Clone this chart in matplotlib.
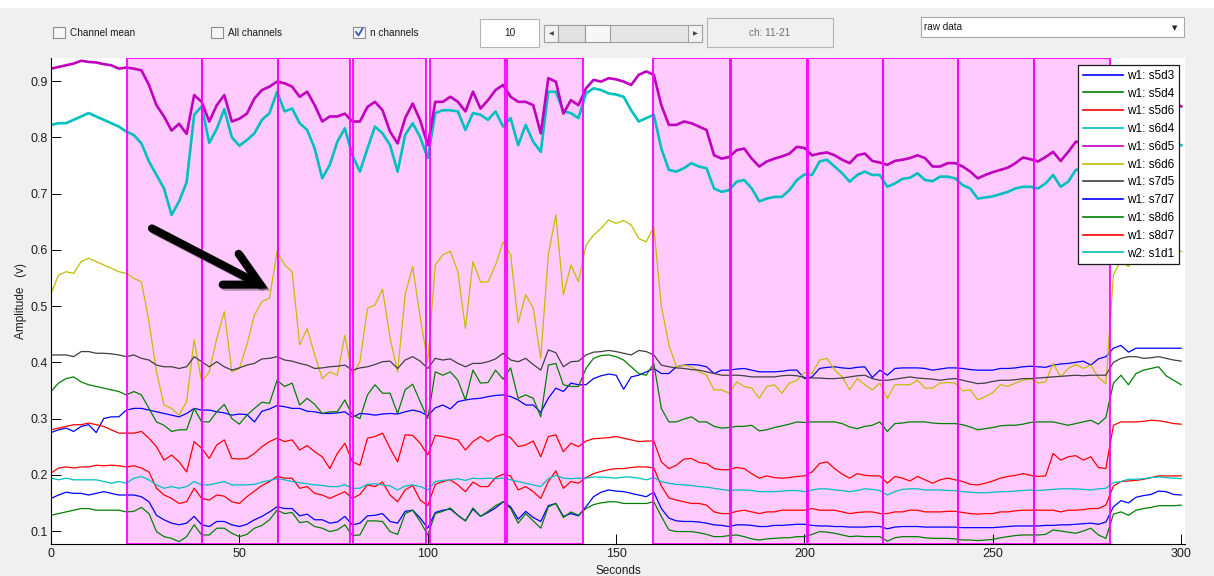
import numpy as np
import matplotlib
matplotlib.use("Agg")
import matplotlib.pyplot as plt
from matplotlib.patches import Rectangle
from matplotlib.lines import Line2D
import matplotlib.patheffects as pe

plt.rcParams['font.family'] = ['Liberation Sans', 'DejaVu Sans']

# ---------------------------------------------------------------- data
# samples every 2 s
seconds = np.arange(0, 302, 2)

channel_names = ['w1: s5d3', 'w1: s5d4', 'w1: s5d6', 'w1: s6d4', 'w1: s6d5',
                 'w1: s6d6', 'w1: s7d5', 'w1: s7d7', 'w1: s8d6', 'w1: s8d7',
                 'w2: s1d1']

s5d3 = [.275, .280, .283, .277, .286, .289, .275, .300, .303, .303,
        .315, .318, .318, .315, .312, .309, .306, .303, .309, .318,
        .315, .315, .312, .310, .306, .308, .307, .294, .313, .317,
        .323, .321, .318, .318, .313, .312, .309, .309, .310, .312,
        .302, .309, .308, .306, .308, .309, .308, .312, .315, .312,
        .305, .319, .324, .317, .330, .333, .335, .336, .339, .341,
        .342, .339, .333, .324, .324, .311, .336, .354, .348, .363,
        .360, .360, .371, .376, .379, .377, .352, .374, .377, .383,
        .389, .380, .380, .392, .395, .396, .395, .392, .380, .386,
        .386, .388, .389, .386, .383, .383, .383, .384, .386, .386,
        .371, .374, .389, .391, .392, .390, .389, .391, .392, .373,
        .386, .377, .389, .390, .390, .390, .389, .386, .388, .390,
        .390, .389, .387, .386, .386, .386, .389, .389, .390, .392,
        .393, .392, .391, .395, .397, .398, .400, .402, .395, .406,
        .410, .425, .430, .418, .425, .425, .425, .425, .425, .425,
        .425]

s5d4 = [.348, .363, .371, .374, .365, .360, .357, .354, .351, .348,
        .342, .348, .342, .318, .294, .288, .277, .280, .280, .318,
        .294, .294, .312, .325, .300, .290, .306, .318, .329, .327,
        .368, .357, .363, .324, .336, .325, .309, .312, .312, .333,
        .306, .300, .342, .360, .345, .345, .309, .351, .361, .330,
        .300, .383, .377, .383, .368, .333, .386, .363, .364, .386,
        .370, .390, .336, .342, .336, .303, .395, .398, .360, .357,
        .357, .389, .407, .412, .413, .410, .404, .392, .380, .377,
        .398, .318, .294, .294, .299, .303, .294, .294, .286, .283,
        .284, .286, .286, .288, .278, .280, .284, .287, .290, .294,
        .293, .294, .294, .294, .294, .291, .285, .282, .286, .288,
        .294, .277, .291, .292, .294, .294, .294, .292, .291, .291,
        .291, .289, .285, .280, .282, .284, .287, .288, .288, .290,
        .293, .294, .294, .294, .291, .288, .291, .294, .297, .290,
        .302, .363, .377, .360, .380, .386, .389, .392, .376, .368,
        .360]

s5d6 = [.280, .283, .286, .289, .289, .292, .289, .286, .280, .274,
        .274, .274, .277, .265, .250, .226, .235, .223, .205, .259,
        .247, .229, .253, .262, .229, .228, .229, .238, .250, .259,
        .265, .259, .262, .244, .252, .241, .232, .211, .238, .256,
        .223, .217, .265, .268, .274, .247, .223, .271, .270, .256,
        .235, .270, .268, .265, .262, .244, .259, .268, .259, .268,
        .272, .266, .250, .253, .260, .232, .268, .271, .241, .256,
        .250, .260, .264, .265, .266, .268, .265, .262, .259, .260,
        .260, .223, .211, .217, .228, .229, .222, .220, .211, .209,
        .209, .213, .211, .202, .194, .198, .195, .194, .195, .197,
        .198, .205, .220, .223, .211, .201, .194, .202, .199, .198,
        .198, .185, .197, .194, .189, .197, .191, .185, .191, .194,
        .191, .188, .183, .182, .185, .189, .194, .197, .199, .202,
        .199, .197, .198, .238, .226, .232, .234, .226, .232, .213,
        .211, .288, .294, .294, .294, .295, .297, .296, .294, .291,
        .290]

s6d4 = [.822, .825, .825, .831, .837, .843, .837, .831, .825, .819,
        .810, .804, .789, .757, .733, .709, .662, .686, .720, .840,
        .855, .790, .815, .850, .800, .785, .795, .807, .831, .843,
        .881, .846, .851, .825, .813, .780, .727, .751, .792, .816,
        .768, .739, .780, .819, .807, .786, .739, .804, .825, .800,
        .763, .843, .848, .848, .846, .813, .843, .840, .831, .846,
        .819, .834, .786, .822, .792, .774, .881, .881, .846, .843,
        .834, .878, .887, .884, .878, .876, .872, .848, .828, .834,
        .840, .780, .742, .739, .745, .754, .748, .745, .709, .703,
        .706, .721, .724, .709, .686, .691, .694, .694, .706, .724,
        .734, .733, .757, .760, .748, .736, .721, .733, .739, .733,
        .733, .712, .718, .726, .728, .736, .724, .722, .730, .730,
        .727, .715, .709, .691, .693, .695, .699, .703, .709, .712,
        .712, .709, .718, .733, .712, .721, .742, .745, .745, .745,
        .750, .770, .780, .785, .785, .790, .785, .790, .790, .788,
        .786]

s6d5 = [.922, .925, .928, .931, .936, .934, .933, .930, .928, .922,
        .924, .922, .919, .893, .857, .837, .812, .824, .806, .875,
        .863, .828, .857, .875, .828, .833, .842, .869, .884, .890,
        .899, .896, .890, .872, .881, .857, .828, .837, .837, .842,
        .828, .828, .854, .863, .848, .810, .789, .834, .860, .830,
        .786, .863, .863, .872, .863, .846, .881, .851, .866, .884,
        .893, .872, .863, .863, .857, .807, .905, .899, .842, .866,
        .857, .887, .902, .899, .905, .903, .899, .893, .911, .917,
        .911, .857, .822, .822, .828, .825, .819, .813, .768, .762,
        .765, .777, .780, .762, .748, .757, .762, .766, .771, .783,
        .781, .768, .771, .773, .768, .760, .754, .768, .771, .758,
        .755, .751, .758, .760, .763, .768, .763, .748, .748, .754,
        .754, .748, .739, .727, .733, .738, .742, .746, .754, .764,
        .761, .757, .765, .774, .758, .774, .792, .790, .795, .790,
        .800, .830, .850, .860, .860, .865, .860, .865, .860, .860,
        .855]

s6d6 = [.522, .555, .561, .558, .579, .585, .579, .573, .567, .561,
        .558, .549, .543, .472, .383, .324, .318, .306, .330, .440,
        .365, .383, .442, .490, .383, .389, .431, .484, .508, .514,
        .597, .573, .561, .431, .460, .413, .371, .383, .377, .448,
        .377, .401, .496, .502, .530, .443, .383, .520, .570, .480,
        .400, .573, .591, .597, .561, .460, .579, .543, .543, .573,
        .614, .591, .470, .520, .496, .407, .591, .662, .520, .573,
        .543, .608, .626, .638, .653, .647, .652, .644, .620, .614,
        .641, .500, .431, .392, .395, .392, .383, .377, .351, .351,
        .345, .365, .357, .354, .336, .357, .360, .345, .363, .368,
        .382, .380, .404, .407, .386, .374, .351, .371, .360, .351,
        .363, .336, .360, .360, .360, .368, .354, .354, .363, .364,
        .363, .349, .351, .333, .339, .346, .360, .357, .363, .368,
        .371, .363, .365, .398, .374, .389, .396, .389, .395, .373,
        .362, .555, .582, .570, .591, .590, .595, .600, .600, .598,
        .597]

s7d5 = [.413, .413, .413, .410, .419, .419, .416, .416, .415, .413,
        .410, .413, .407, .404, .395, .392, .392, .389, .392, .410,
        .401, .392, .401, .392, .386, .390, .395, .398, .406, .407,
        .410, .404, .402, .398, .395, .389, .390, .392, .393, .395,
        .386, .390, .392, .396, .401, .402, .389, .404, .410, .402,
        .389, .407, .404, .406, .398, .392, .398, .398, .401, .406,
        .416, .404, .401, .407, .396, .386, .422, .417, .392, .401,
        .402, .413, .418, .419, .421, .419, .416, .413, .421, .419,
        .413, .395, .392, .390, .389, .387, .386, .383, .380, .377,
        .377, .377, .376, .374, .374, .374, .374, .376, .377, .376,
        .373, .372, .372, .371, .371, .372, .374, .376, .377, .371,
        .368, .368, .370, .372, .374, .372, .371, .370, .368, .370,
        .371, .368, .365, .362, .363, .366, .368, .368, .369, .371,
        .371, .372, .373, .374, .375, .376, .377, .376, .377, .377,
        .377, .400, .407, .410, .410, .407, .408, .410, .407, .404,
        .402]

s7d7 = [.158, .164, .169, .167, .167, .164, .167, .170, .167, .164,
        .164, .164, .161, .152, .128, .120, .114, .111, .114, .126,
        .111, .108, .117, .117, .111, .108, .112, .120, .126, .134,
        .143, .140, .140, .127, .130, .120, .120, .114, .116, .126,
        .111, .114, .127, .128, .131, .117, .114, .135, .137, .123,
        .105, .133, .137, .139, .128, .118, .139, .126, .133, .141,
        .152, .143, .121, .135, .124, .117, .145, .149, .126, .131,
        .127, .143, .161, .169, .173, .171, .170, .167, .164, .161,
        .169, .140, .123, .118, .117, .117, .116, .114, .111, .110,
        .108, .111, .111, .110, .108, .108, .110, .110, .111, .112,
        .112, .110, .109, .109, .108, .108, .107, .107, .107, .108,
        .108, .104, .107, .108, .108, .108, .107, .107, .107, .107,
        .107, .106, .106, .106, .106, .106, .107, .108, .109, .109,
        .109, .109, .110, .110, .111, .111, .112, .113, .114, .112,
        .116, .143, .154, .150, .160, .163, .165, .171, .170, .165,
        .164]

s8d6 = [.128, .131, .134, .137, .140, .140, .137, .137, .137, .137,
        .134, .135, .142, .131, .099, .090, .087, .081, .090, .111,
        .093, .093, .105, .105, .096, .090, .094, .105, .110, .120,
        .137, .131, .133, .115, .117, .108, .105, .099, .102, .111,
        .092, .093, .118, .118, .117, .099, .094, .131, .137, .117,
        .093, .131, .135, .141, .128, .118, .141, .126, .135, .145,
        .152, .140, .114, .131, .118, .105, .143, .149, .124, .134,
        .128, .140, .147, .150, .152, .152, .149, .149, .149, .149,
        .152, .126, .102, .099, .099, .099, .097, .094, .090, .090,
        .092, .093, .090, .086, .084, .086, .087, .088, .088, .090,
        .090, .094, .099, .098, .096, .093, .090, .091, .090, .090,
        .090, .082, .088, .090, .090, .090, .088, .087, .087, .087,
        .086, .084, .084, .083, .084, .085, .088, .090, .092, .093,
        .093, .093, .094, .102, .100, .098, .096, .100, .105, .093,
        .087, .130, .134, .128, .137, .140, .142, .145, .145, .145,
        .146]

s8d7 = [.203, .212, .214, .212, .214, .214, .217, .216, .217, .216,
        .214, .216, .212, .205, .176, .164, .158, .149, .152, .176,
        .158, .155, .164, .162, .152, .149, .161, .171, .181, .188,
        .197, .194, .194, .176, .179, .167, .164, .158, .164, .170,
        .158, .165, .182, .179, .187, .164, .152, .173, .181, .155,
        .145, .183, .188, .191, .182, .170, .187, .179, .179, .195,
        .201, .198, .173, .179, .170, .158, .188, .207, .176, .188,
        .185, .195, .202, .206, .209, .211, .211, .213, .214, .214,
        .212, .180, .159, .155, .152, .149, .149, .146, .134, .131,
        .131, .135, .137, .134, .131, .134, .134, .137, .137, .137,
        .137, .140, .137, .137, .137, .134, .131, .133, .134, .134,
        .131, .131, .134, .134, .137, .137, .134, .134, .134, .135,
        .135, .133, .131, .130, .131, .131, .134, .134, .136, .137,
        .137, .137, .137, .137, .134, .137, .137, .138, .140, .140,
        .146, .180, .188, .189, .190, .192, .195, .198, .198, .198,
        .198]

s1d1 = [.194, .191, .194, .191, .191, .191, .191, .188, .185, .188,
        .185, .194, .197, .191, .182, .176, .179, .176, .179, .188,
        .182, .182, .185, .188, .182, .182, .182, .183, .187, .190,
        .193, .191, .188, .186, .184, .182, .181, .179, .179, .182,
        .176, .176, .183, .184, .182, .180, .173, .180, .182, .179,
        .173, .188, .190, .191, .193, .190, .194, .193, .194, .193,
        .194, .191, .188, .185, .182, .179, .193, .199, .194, .193,
        .194, .194, .196, .196, .195, .194, .196, .196, .194, .191,
        .195, .188, .185, .183, .182, .181, .179, .178, .176, .174,
        .172, .173, .173, .172, .170, .170, .170, .171, .172, .172,
        .170, .173, .175, .175, .173, .172, .170, .172, .175, .174,
        .172, .164, .170, .174, .175, .175, .173, .173, .173, .172,
        .172, .170, .169, .168, .168, .169, .170, .170, .171, .172,
        .173, .172, .173, .174, .175, .175, .175, .174, .173, .175,
        .176, .186, .188, .192, .192, .193, .195, .196, .195, .194,
        .193]

# task blocks (s)
block_onsets = [20.1, 40.1, 60.3, 80.1, 100.6, 121.1,
                159.9, 180.6, 200.8, 220.8, 240.8, 261.0]
block_offsets = [40.1, 60.3, 79.4, 99.5, 120.6, 141.3,
                 180.1, 200.7, 220.8, 240.8, 261.0, 281.1]

x_ticks = [0, 50, 100, 150, 200, 250, 300]
y_ticks = [0.1, 0.2, 0.3, 0.4, 0.5, 0.6, 0.7, 0.8, 0.9]
y_tick_labels = ['0.1', '0.2', '0.3', '0.4', '0.5', '0.6', '0.7', '0.8', '0.9']

# ---------------------------------------------------------------- styles
series = [s5d3, s5d4, s5d6, s6d4, s6d5, s6d6, s7d5, s7d7, s8d6, s8d7, s1d1]
colors = ['#0000ff', '#008000', '#ff0000', '#00bfbf', '#bf00bf', '#bfbf00',
          '#404040', '#0000ff', '#008000', '#ff0000', '#00bfbf']
widths = [0.9, 0.9, 0.9, 1.9, 1.9, 0.9, 0.9, 0.9, 0.9, 0.9, 0.9]

W, H = 1214, 576
fig = plt.figure(figsize=(W / 100, H / 100), dpi=100, facecolor='#f0f0f0')


def fx(px):
    return px / W


def fy(py):
    return 1 - py / H


def box(x0, y0, x1, y1, fc, ec, lw=0.8):
    fig.add_artist(Rectangle((fx(x0), fy(y1)), (x1 - x0) / W, (y1 - y0) / H,
                             transform=fig.transFigure, facecolor=fc,
                             edgecolor=ec, lw=lw))


def label(px, py, s, size=7.2, color='#1a1a1a', ha='left', **kw):
    fig.text(fx(px), fy(py), s, fontsize=size, color=color, ha=ha,
             va='center', **kw)


# ---------------------------------------------------------------- control bar
box(0, -2, W, 8, 'white', 'none')

for x0, txt, checked in [(53, 'Channel mean', False),
                         (211, 'All channels', False),
                         (353, 'n channels', True)]:
    box(x0, 27, x0 + 12, 38, '#f6f6f6', '#8e8e8e')
    label(x0 + 17, 32.5, txt)
    if checked:
        fig.add_artist(Line2D([fx(x0 + 3), fx(x0 + 5.5), fx(x0 + 9.5)],
                              [fy(32), fy(35.5), fy(28.5)],
                              transform=fig.transFigure, color='#3a5db0',
                              lw=1.3))

box(480, 19, 539, 47, 'white', '#b4b4b4')
label(509.5, 33.5, '10', ha='center')

box(544, 25, 702, 42, '#e6e6e6', '#a2a2a2')
box(544, 25, 558, 42, '#f2f2f2', '#a2a2a2')
box(688, 25, 702, 42, '#f2f2f2', '#a2a2a2')
box(558, 25, 585, 42, '#e2e2e2', '#9a9a9a')
box(585, 25, 610, 42, '#f7f7f7', '#9a9a9a')
label(551, 33.5, '\u25c0', size=4.5, color='#444444', ha='center',
      family='DejaVu Sans')
label(695, 33.5, '\u25b6', size=4.5, color='#444444', ha='center',
      family='DejaVu Sans')

box(707, 18, 833, 47, '#f0f0f0', '#b4b4b4')
label(770, 33, 'ch: 11-21', color='#707070', ha='center')

box(921, 17, 1184, 37, 'white', '#a8a8a8')
label(924, 27.5, 'raw data')
label(1175, 28, '\u25bc', size=5, color='#222222', ha='center',
      family='DejaVu Sans')

# ---------------------------------------------------------------- axes
ax_l, ax_r, ax_t, ax_b = 51, 1185, 58.3, 544.3
ax = fig.add_axes([fx(ax_l), fy(ax_b), (ax_r - ax_l) / W, (ax_b - ax_t) / H])
ax.set_facecolor('white')

for on, off in zip(block_onsets, block_offsets):
    ax.axvspan(on, off, facecolor='#ffcbff', edgecolor='none', zorder=0.5)
    ax.axvspan(on, off, facecolor='none', edgecolor='#ff00ff', lw=1.3,
               zorder=3)

handles = []
for vals, name, c, w in zip(series, channel_names, colors, widths):
    h, = ax.plot(seconds[:len(vals)], vals, color=c, lw=w, label=name,
                 zorder=2)
    handles.append(h)

ax.set_xlim(0, 301)
ax.set_ylim(0.0764, 0.9404)
ax.set_xticks(x_ticks)
ax.set_xticklabels([str(v) for v in x_ticks])
ax.set_yticks(y_ticks)
ax.set_yticklabels(y_tick_labels)
for side in ('top', 'right'):
    ax.spines[side].set_visible(False)
for side in ('left', 'bottom'):
    ax.spines[side].set_color('black')
    ax.spines[side].set_linewidth(0.8)
ax.tick_params(direction='in', length=7, width=0.7, colors='black',
               labelsize=9, labelcolor='#1e1e1e')
ax.tick_params(axis='y', pad=2.2)
ax.tick_params(axis='x', pad=3.0)

ax.set_xlabel('Seconds', fontsize=8.5, color='#1e1e1e')
ax.xaxis.set_label_coords(0.5, -0.043)
ax.xaxis.label.set_va('top')
ax.set_ylabel('Amplitude   (v)', fontsize=8.5, color='#1e1e1e')
ax.yaxis.set_label_coords(-0.021, 0.5)

arrow = ax.annotate('', xy=(57.6, 0.531), xytext=(26.8, 0.638),
                    arrowprops=dict(arrowstyle='->,head_length=2.4,head_width=1.25',
                                    lw=5.8, color='black', shrinkA=0,
                                    shrinkB=0, capstyle='round',
                                    joinstyle='miter'),
                    zorder=6)
arrow.arrow_patch.set_path_effects([
    pe.SimpleLineShadow(offset=(1.5, -1.5), shadow_color='black', alpha=0.3),
    pe.Normal()])

leg = ax.legend(handles, channel_names, loc='upper right',
                bbox_to_anchor=(0.9947, 0.9862), borderaxespad=0,
                fontsize=8.5, frameon=True, fancybox=False,
                edgecolor='#1a1a1a', framealpha=1, handlelength=3.4,
                handletextpad=0.35, labelspacing=0.49, borderpad=0.4)
leg.get_frame().set_linewidth(0.9)
leg.set_zorder(7)
for ln in leg.get_lines():
    ln.set_linewidth(1.2)

fig.savefig('out.png', dpi=100, facecolor=fig.get_facecolor())
